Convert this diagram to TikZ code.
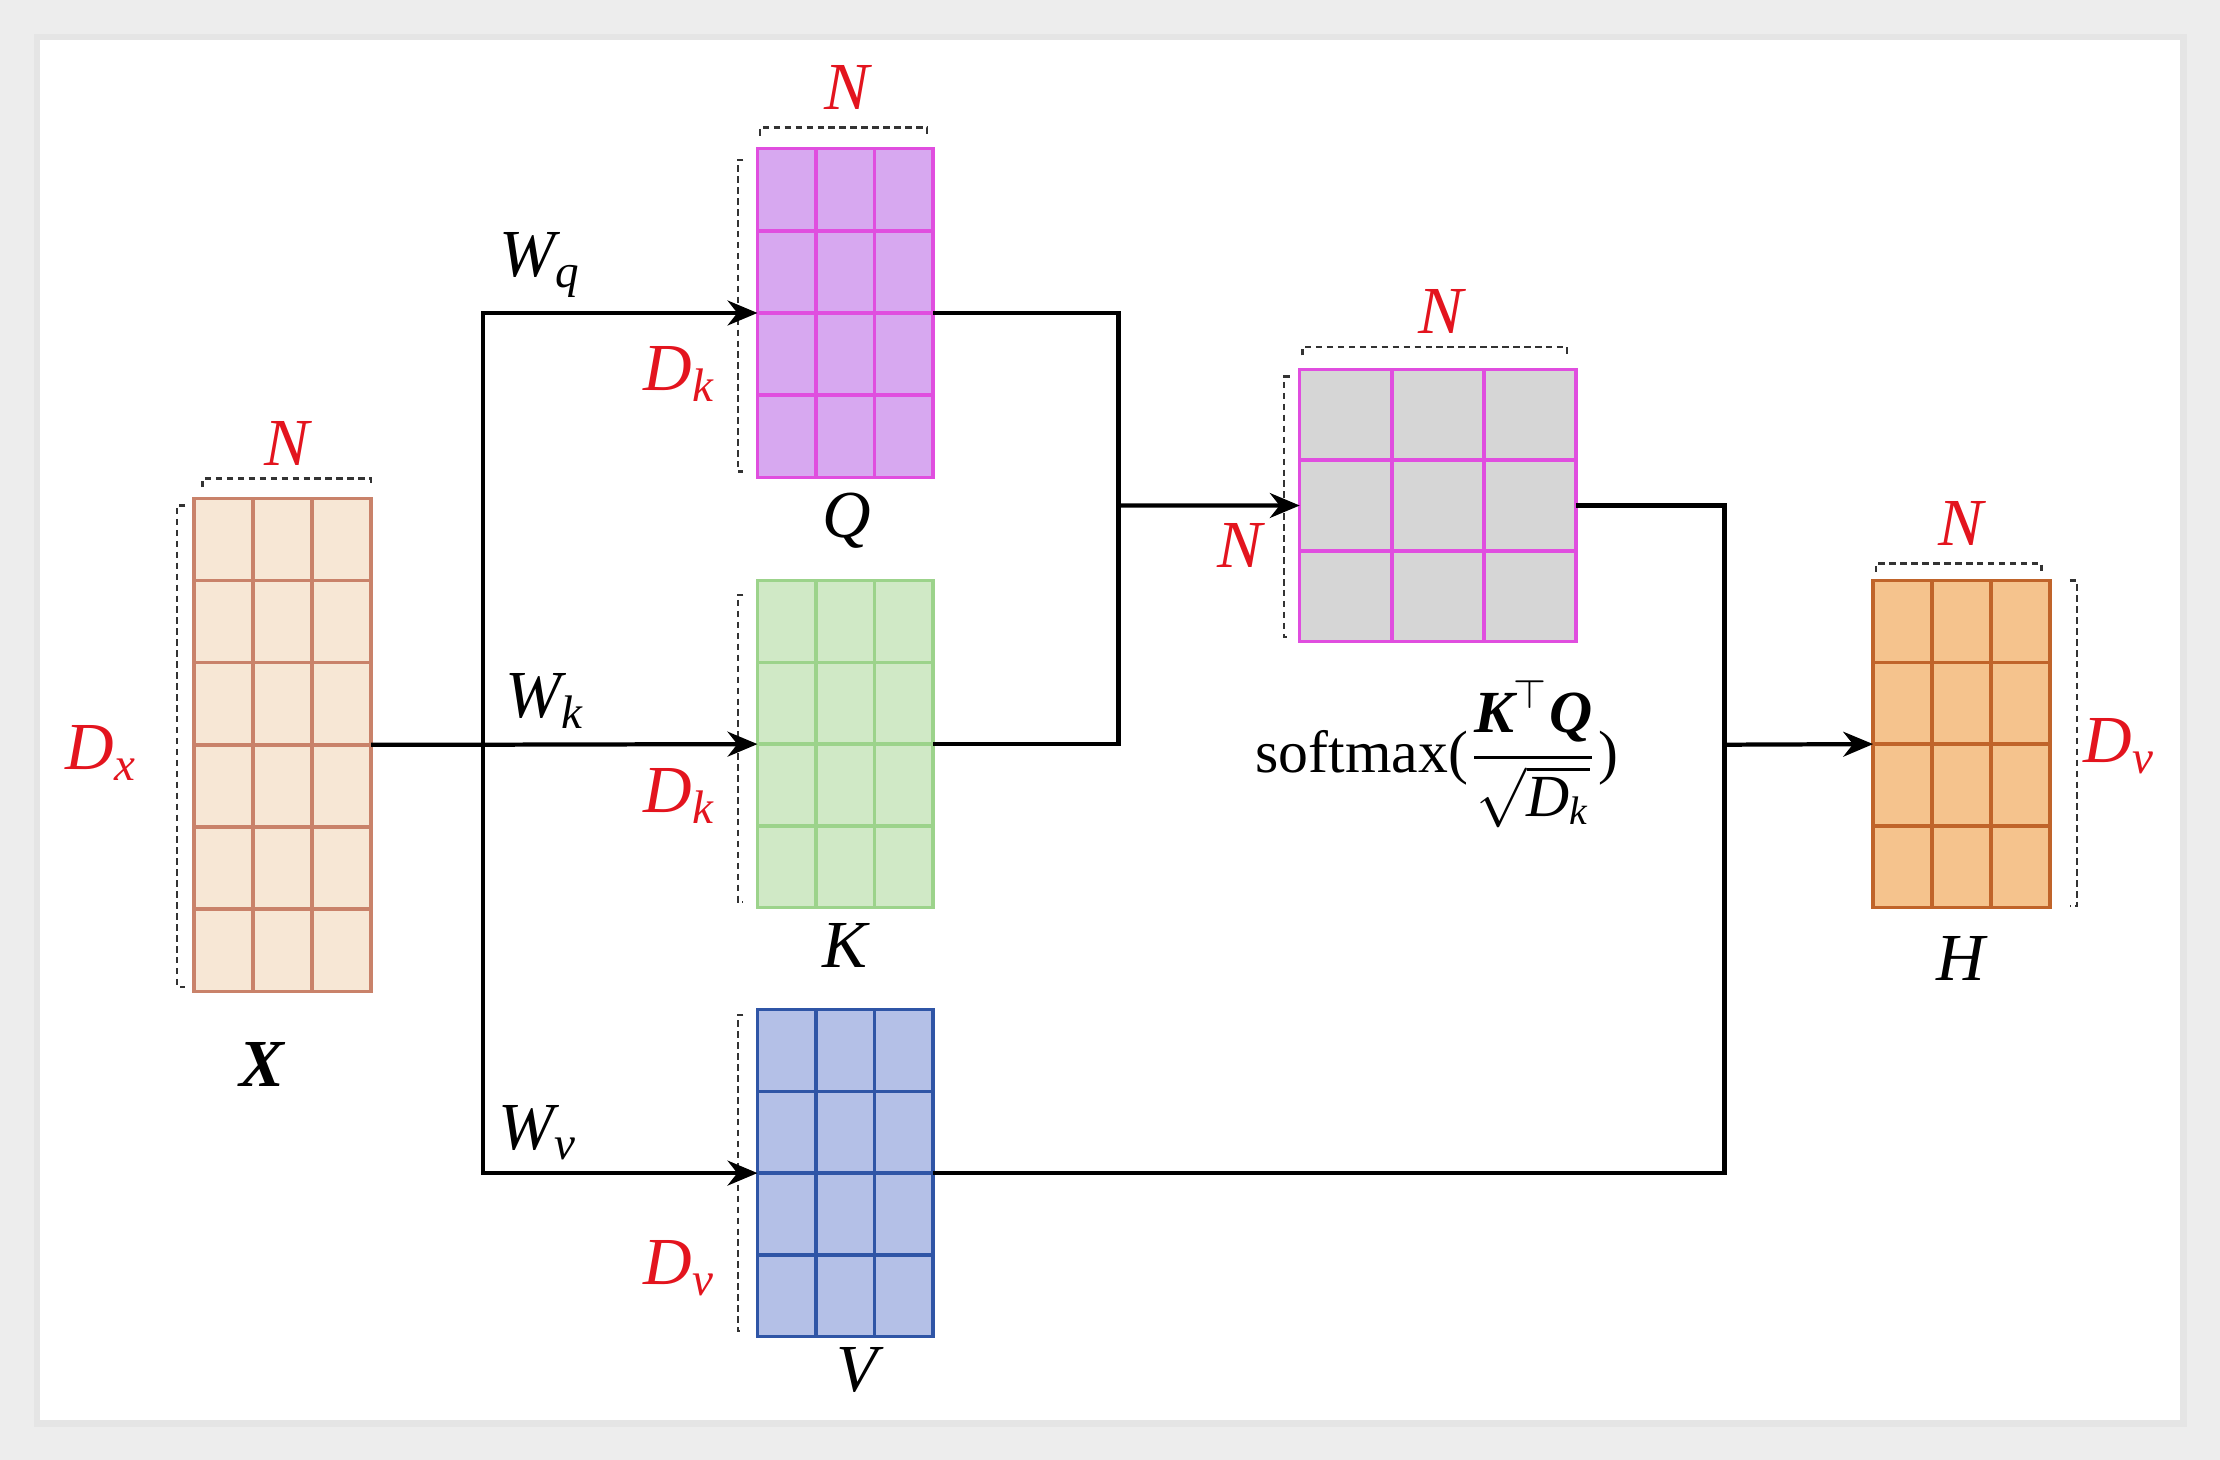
\documentclass[tikz,border=0pt]{standalone}
\usepackage{amsmath}
\usepackage{fontspec}
\setmainfont{Liberation Serif}
\usetikzlibrary{calc,arrows.meta}
\definecolor{xfill}{HTML}{F7E7D5}
\definecolor{xline}{HTML}{C9826A}
\definecolor{qfill}{HTML}{D7A8F0}
\definecolor{qline}{HTML}{E04EDF}
\definecolor{kfill}{HTML}{D0E9C6}
\definecolor{kline}{HTML}{9CD38B}
\definecolor{vfill}{HTML}{B4C0E7}
\definecolor{vline}{HTML}{2F55A6}
\definecolor{afill}{HTML}{D6D6D6}
\definecolor{hfill}{HTML}{F5C38D}
\definecolor{hline}{HTML}{C0642A}
\definecolor{lblred}{HTML}{E3141E}
\newcommand\vi[1]{\text{\itshape #1}}
\newcommand\matgrid[4]{%
  \foreach \i in {#2}{\draw[#4] ($(#1.north west)!\i!(#1.north east)$) -- ($(#1.south west)!\i!(#1.south east)$);}%
  \foreach \j in {#3}{\draw[#4] ($(#1.north west)!\j!(#1.south west)$) -- ($(#1.north east)!\j!(#1.south east)$);}%
}
\begin{document}
\begin{tikzpicture}[x=0.01cm,y=-0.01cm,
  font=\fontsize{13.5}{16}\selectfont,
  mat/.style={draw, line width=0.7pt, inner sep=0pt, outer sep=0pt, anchor=north west},
  gl/.style={line width=0.7pt},
  brk/.style={line width=0.45pt, dash pattern=on 1.3pt off 0.9pt, black!80},
  conn/.style={line width=0.85pt, black},
  arr/.style={conn, -{Stealth[length=6pt,width=5pt]}},
  red lbl/.style={text=lblred, inner sep=0pt},
  blk lbl/.style={text=black, inner sep=0pt}]
\useasboundingbox (0,0) rectangle (1568,1031);
\fill[black!7] (0,0) rectangle (1568,1031);
\fill[black!10] (24,24) rectangle (1545,1008);
\fill[white] (28,28) rectangle (1540,1003);

% matrices
\node[mat, fill=xfill, draw=xline, minimum width=1.25cm, minimum height=3.48cm] (X) at (137,352) {};
\matgrid{X}{0.3333,0.6667}{0.1667,0.3333,0.5,0.6667,0.8333}{gl, xline}
\node[mat, fill=qfill, draw=qline, minimum width=1.24cm, minimum height=2.32cm] (Q) at (535,105) {};
\matgrid{Q}{0.3333,0.6667}{0.25,0.5,0.75}{gl, qline}
\node[mat, fill=kfill, draw=kline, minimum width=1.24cm, minimum height=2.31cm] (K) at (535,410) {};
\matgrid{K}{0.3333,0.6667}{0.25,0.5,0.75}{gl, kline}
\node[mat, fill=vfill, draw=vline, minimum width=1.24cm, minimum height=2.31cm] (V) at (535,713) {};
\matgrid{V}{0.3333,0.6667}{0.25,0.5,0.75}{gl, vline}
\node[mat, fill=afill, draw=qline, minimum width=1.95cm, minimum height=1.92cm] (A) at (918,261) {};
\matgrid{A}{0.3333,0.6667}{0.3333,0.6667}{gl, qline}
\node[mat, fill=hfill, draw=hline, minimum width=1.25cm, minimum height=2.31cm] (H) at (1323,410) {};
\matgrid{H}{0.3333,0.6667}{0.25,0.5,0.75}{gl, hline}

% dimension brackets
\draw[brk] (143,344) -- (143,338) -- (262,338) -- (262,344);
\draw[brk] (131,357) -- (125,357) -- (125,697) -- (131,697);
\draw[brk] (537,96) -- (537,90) -- (655,90) -- (655,96);
\draw[brk] (525,113) -- (521,113) -- (521,333) -- (525,333);
\draw[brk] (525,420) -- (521,420) -- (521,637) -- (525,637);
\draw[brk] (525,717) -- (521,717) -- (521,940) -- (525,940);
\draw[brk] (920,251) -- (920,245) -- (1107,245) -- (1107,251);
\draw[brk] (911,266) -- (907,266) -- (907,450) -- (911,450);
\draw[brk] (1325,404) -- (1325,398) -- (1442,398) -- (1442,404);
\draw[brk] (1462,410) -- (1467,410) -- (1467,640) -- (1462,640);

% connectors
\coordinate (tr) at (341,526);
\coordinate (mg) at (790,357);
\coordinate (mh) at (1218,526);
\draw[conn] (X.east) -- (tr);
\draw[arr] (tr) |- (Q.west);
\draw[arr] (tr) -- (K.west);
\draw[arr] (tr) |- (V.west);
\draw[conn] (Q.east) -| (mg);
\draw[conn] (K.east) -| (mg);
\draw[arr] (mg) -- (A.west);
\draw[conn] (A.east) -| (mh);
\draw[conn] (V.east) -| (mh);
\draw[arr] (mh) -- (H.west);

% red dimension labels
\node[red lbl] (nX) at (203,313) {$\vi{N}$};
\node[red lbl] (dX) at (72,532) {$\vi{D}_{\vi{x}}$};
\node[red lbl] (nQ) at (598,62) {$\vi{N}$};
\node[red lbl] (dQ) at (480,264) {$\vi{D}_{\vi{k}}$};
\node[red lbl] (dK) at (480,562) {$\vi{D}_{\vi{k}}$};
\node[red lbl] (dV) at (480,896) {$\vi{D}_{\vi{v}}$};
\node[red lbl] (nA) at (1018,220) {$\vi{N}$};
\node[red lbl] (nA2) at (876,385) {$\vi{N}$};
\node[red lbl] (nH) at (1385,370) {$\vi{N}$};
\node[red lbl] (dH) at (1497,527) {$\vi{D}_{\vi{v}}$};

% black labels
\node[blk lbl] (lX) at (185,752) {\bfseries\itshape X};
\node[blk lbl] (lQ) at (598,368) {\itshape Q};
\node[blk lbl] (lK) at (597,668) {\itshape K};
\node[blk lbl] (lV) at (605,968) {\itshape V};
\node[blk lbl] (lH) at (1385,677) {\itshape H};
\node[blk lbl] (wq) at (382,187) {$\vi{W}_{\vi{q}}$};
\node[blk lbl] (wk) at (385,495) {$\vi{W}_{\vi{k}}$};
\node[blk lbl] (wv) at (380,800) {$\vi{W}_{\vi{v}}$};
\node[blk lbl, font=\fontsize{12}{14}\selectfont] (sm) at (1015,533) {softmax($\displaystyle\frac{\text{\bfseries\itshape K}^{\top}\text{\bfseries\itshape Q}}{\sqrt{\vi{D}_{\vi{k}}}}$)};
\end{tikzpicture}
\end{document}
